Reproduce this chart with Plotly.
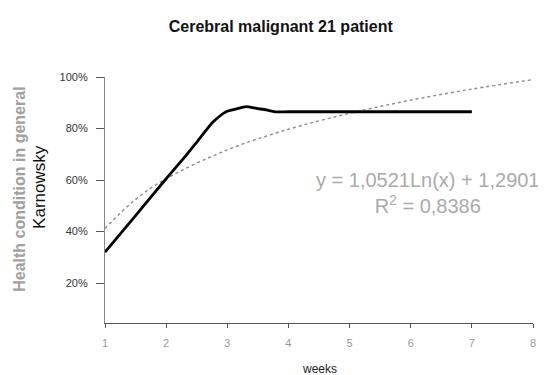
import plotly.graph_objects as go

# Observed Karnowsky health condition (fraction) by week
weeks = [1.0, 1.5, 2.0, 2.33, 2.55, 2.77, 2.98, 3.15, 3.31, 3.48, 3.64, 3.78, 4.0, 5.0, 6.0, 7.0]
health = [0.32, 0.462, 0.605, 0.697, 0.762, 0.826, 0.865, 0.876, 0.885, 0.878, 0.872, 0.865, 0.865, 0.865, 0.865, 0.865]

# Logarithmic trend line
trend_weeks = [1, 1.5, 2, 3, 4, 5, 6, 7, 8]
trend_vals = [0.412, 0.525, 0.605, 0.717, 0.797, 0.859, 0.910, 0.953, 0.990]

y_ticks = [0.2, 0.4, 0.6, 0.8, 1.0]
y_tick_text = ["20%", "40%", "60%", "80%", "100%"]
x_ticks = [1, 2, 3, 4, 5, 6, 7, 8]
x_tick_text = ["1", "2", "3", "4", "5", "6", "7", "8"]

fig = go.Figure()
fig.add_trace(go.Scatter(
    x=trend_weeks, y=trend_vals, mode="lines",
    line=dict(color="#8a8a8a", width=1.4, dash="dot", shape="spline"),
    showlegend=False, hoverinfo="skip"))
fig.add_trace(go.Scatter(
    x=weeks, y=health, mode="lines",
    line=dict(color="#000000", width=2.8, shape="spline", smoothing=0.6),
    showlegend=False))

fig.update_layout(
    width=538, height=367,
    margin=dict(l=97, r=13, t=69, b=52, autoexpand=False),
    paper_bgcolor="white", plot_bgcolor="white",
    font=dict(family="Liberation Sans, Arial, sans-serif", color="#333"),
    title=dict(text="<b>Cerebral malignant 21 patient</b>", x=0.507, xanchor="center",
               y=0.951, yanchor="middle",
               font=dict(size=16, color="#111")),
    xaxis=dict(range=[1, 8], tickvals=x_ticks, ticktext=x_tick_text, automargin=False,
               showgrid=False, zeroline=False, showline=True, linecolor="#555", linewidth=1.2,
               ticks="outside", ticklen=4, tickcolor="#555", ticklabelstandoff=6,
               tickfont=dict(size=11, color="#999")),
    yaxis=dict(range=[0.045, 1.0], tickvals=y_ticks, ticktext=y_tick_text, automargin=False,
               showgrid=False, zeroline=False, showline=True, linecolor="#888", linewidth=1.2,
               ticks="outside", ticklen=8, tickcolor="#555", ticklabelstandoff=6,
               tickfont=dict(size=11, color="#333")),
    annotations=[
        dict(text="weeks", xref="paper", yref="paper", x=0.5, y=-0.187,
             xanchor="center", yanchor="middle", showarrow=False,
             font=dict(size=12, color="#222")),
        dict(text="<b>Health condition in general</b>", textangle=-90,
             xref="paper", yref="paper", x=-0.199, y=0.545, xanchor="center", yanchor="middle",
             showarrow=False, font=dict(size=16, color="#a0a0a0")),
        dict(text="Karnowsky", textangle=-90,
             xref="paper", yref="paper", x=-0.152, y=0.553, xanchor="center", yanchor="middle",
             showarrow=False, font=dict(size=17, color="#111")),
        dict(text="y = 1,0521Ln(x) + 1,2901<br>R<sup>2</sup> = 0,8386",
             xref="paper", yref="paper", x=0.755, y=0.53, xanchor="center", yanchor="middle",
             align="center", showarrow=False, font=dict(size=20, color="#aaaaaa")),
    ],
)

fig.write_html("out.html")
